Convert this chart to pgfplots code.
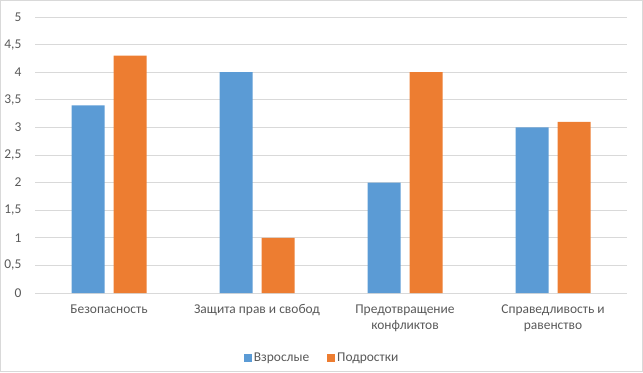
\documentclass[border=0pt]{standalone}
\usepackage{fontspec}
\setmainfont{Carlito}
\usepackage{pgfplots}
\pgfplotsset{compat=1.18}
\definecolor{cblue}{HTML}{5B9BD5}
\definecolor{corange}{HTML}{ED7D31}
\definecolor{gridc}{HTML}{D9D9D9}
\definecolor{txt}{HTML}{595959}
\begin{document}
\fontsize{13.5}{16}\selectfont
\begin{tikzpicture}[x=1bp,y=1bp]
\useasboundingbox (0,0) rectangle (643,372);
\draw[gridc] (0.5,0.5) rectangle (642.5,371.5);
\begin{axis}[
  at={(35bp,79bp)}, anchor=south west,
  scale only axis, width=592bp, height=276bp,
  ymin=0, ymax=5, ytick={0,0.5,...,5},
  xmin=-0.5, xmax=3.5, xtick={0,1,2,3},
  xticklabels={Безопасность, Защита прав и свобод, {Предотвращение\\конфликтов}, {Справедливость и\\равенство}},
  xticklabel style={align=center, text=txt, font=\fontsize{13.5}{16}\selectfont, yshift=-7bp},
  yticklabel style={text=txt, font=\fontsize{13.5}{16}\selectfont, xshift=-9bp},
  /pgf/number format/assume math mode=true,
  /pgf/number format/use comma, /pgf/number format/fixed,
  major tick length=0pt,
  axis line style={draw=none},
  ymajorgrids, grid style={gridc, line width=0.75bp},
  legend style={at={(0.485,-0.235)}, anchor=center, draw=none, legend columns=2,
    font=\fontsize{13.5}{16}\selectfont, text=txt, inner sep=0pt,
    /tikz/every odd column/.append style={column sep=0bp},
    /tikz/every even column/.append style={column sep=16bp}},
  legend image code/.code={\fill[#1] (0bp,-4bp) rectangle (8bp,4bp);},
  clip=false,
]
\addplot[ybar, bar width=33bp, bar shift=-21bp, fill=cblue, draw=none] coordinates {(0,3.4) (1,4) (2,2) (3,3)};
\addlegendentry{Взрослые}
\addplot[ybar, bar width=33bp, bar shift=21bp, fill=corange, draw=none] coordinates {(0,4.3) (1,1) (2,4) (3,3.1)};
\addlegendentry{Подростки}
\end{axis}
\end{tikzpicture}
\end{document}
